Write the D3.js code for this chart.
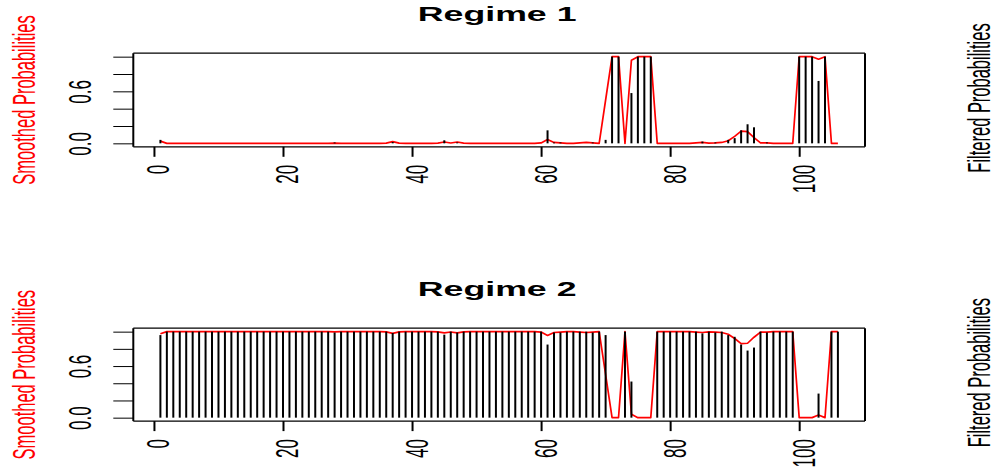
<!DOCTYPE html>
<html>
<head>
<meta charset="utf-8">
<script src="https://cdn.jsdelivr.net/npm/d3@7"></script>
<style>
  html, body { margin: 0; padding: 0; background: #fff; }
  svg { display: block; font-family: "Liberation Sans", Arial, Helvetica, sans-serif; }
</style>
</head>
<body>
<svg id="chart" width="998" height="471"></svg>
<script>
// Observation index 1..106
const obs = d3.range(1, 107);

// Regime 1 — filtered probabilities (bars) and smoothed probabilities (red line)
const filtered1 = [
  0.04,0,0,0,0,0,0,0,0,0,
  0,0,0,0,0,0,0,0,0,0,
  0,0,0,0,0,0,0,0.01,0,0,
  0,0,0,0,0,0,0.015,0,0,0,
  0,0,0,0,0.035,0,0.01,0,0,0,
  0,0,0,0,0,0,0,0,0,0,
  0.15,0.01,0.01,0,0,0,0,0.01,0,0.04,
  1,1,0,0.58,1,1,1,0,0,0,
  0,0,0,0,0.02,0,0.01,0,0.04,0.06,
  0.15,0.22,0.185,0,0.01,0,0,0,0,1,
  1,1,0.72,1,0,0
];
const smoothed1 = [
  0.025,0,0,0,0,0,0,0,0,0,
  0,0,0,0,0,0,0,0,0,0,
  0,0,0,0,0,0,0,0.003,0,0,
  0,0,0,0,0,0.003,0.02,0.003,0,0,
  0,0,0,0.003,0.015,0.004,0.015,0.003,0,0,
  0,0,0,0,0,0,0,0,0,0.005,
  0.045,0.01,0.005,0,0,0.005,0.01,0.005,0,0.5,
  1,1,0,0.96,1,1,1,0,0,0,
  0,0,0,0.005,0.01,0.003,0.005,0.01,0.03,0.08,
  0.14,0.135,0.065,0.005,0.005,0,0,0,0,1,
  1,1,0.97,1,0,0
];

// Regime 2 — filtered probabilities (bars) and smoothed probabilities (red line)
const filtered2 = [
  0.96,1,1,1,1,1,1,1,1,1,
  1,1,1,1,1,1,1,1,1,1,
  1,1,1,1,1,1,1,0.99,1,1,
  1,1,1,1,1,1,0.985,1,1,1,
  1,1,1,1,0.965,1,0.99,1,1,1,
  1,1,1,1,1,1,1,1,1,1,
  0.85,0.99,0.99,1,1,1,1,0.99,1,0.96,
  0,0,1,0.42,0,0,0,1,1,1,
  1,1,1,1,0.98,1,0.99,1,0.96,0.94,
  0.85,0.78,0.815,1,0.99,1,1,1,1,0,
  0,0,0.28,0,1,1
];
const smoothed2 = [
  0.975,1,1,1,1,1,1,1,1,1,
  1,1,1,1,1,1,1,1,1,1,
  1,1,1,1,1,1,1,0.997,1,1,
  1,1,1,1,1,0.997,0.98,0.997,1,1,
  1,1,1,0.997,0.985,0.996,0.985,0.997,1,1,
  1,1,1,1,1,1,1,1,1,0.995,
  0.955,0.99,0.995,1,1,0.995,0.99,0.995,1,0.5,
  0,0,1,0.04,0,0,0,1,1,1,
  1,1,1,0.995,0.99,0.997,0.995,0.99,0.97,0.92,
  0.86,0.865,0.935,0.995,0.995,1,1,1,1,0,
  0,0,0.03,0,1,1
];

const panelTitles = ["Regime 1", "Regime 2"];
const xTicks = [0, 20, 40, 60, 80, 100];
const yTicks = [0, 0.2, 0.4, 0.6, 0.8, 1.0];
const yTickLabels = ["0.0", "", "", "0.6", "", ""];
const leftAxisTitle = "Smoothed Probabilities";
const rightAxisTitle = "Filtered Probabilities";

const panels = [
  { title: panelTitles[0], filt: filtered1, smo: smoothed1, top: 53.2, bottom: 146.8 },
  { title: panelTitles[1], filt: filtered2, smo: smoothed2, top: 328.2, bottom: 421.1 }
];

const svg = d3.select("#chart");
const left = 133.3, right = 865;
const sx = 1.85; // horizontal stretch applied to all text

const x = d3.scaleLinear().domain([-3.2, 110.2]).range([left, right]);

panels.forEach(p => {
  const y = d3.scaleLinear().domain([-0.04, 1.04]).range([p.bottom, p.top]);
  const g = svg.append("g");

  // smoothed probabilities
  const line = d3.line().x((d, i) => x(obs[i])).y(d => y(d));
  g.append("path")
    .datum(p.smo)
    .attr("d", line)
    .attr("fill", "none")
    .attr("stroke", "#ff0000")
    .attr("stroke-width", 1.7)
    .attr("stroke-linejoin", "round");

  // filtered probabilities as vertical spikes
  g.append("g").selectAll("line")
    .data(p.filt)
    .join("line")
    .attr("x1", (d, i) => x(obs[i]))
    .attr("x2", (d, i) => x(obs[i]))
    .attr("y1", y(0))
    .attr("y2", d => y(d))
    .attr("stroke", "#000")
    .attr("stroke-width", 2);

  // plot frame
  g.append("line").attr("x1", left).attr("x2", right).attr("y1", p.top).attr("y2", p.top)
    .attr("stroke", "#000").attr("stroke-width", 1.2);
  g.append("line").attr("x1", left).attr("x2", right).attr("y1", p.bottom).attr("y2", p.bottom)
    .attr("stroke", "#000").attr("stroke-width", 1.2);
  g.append("line").attr("x1", left).attr("x2", left).attr("y1", p.top).attr("y2", p.bottom)
    .attr("stroke", "#000").attr("stroke-width", 2);
  g.append("line").attr("x1", right).attr("x2", right).attr("y1", p.top).attr("y2", p.bottom)
    .attr("stroke", "#000").attr("stroke-width", 2);

  // bottom axis
  const gx = g.append("g")
    .attr("transform", `translate(0,${p.bottom})`)
    .call(d3.axisBottom(x).tickValues(xTicks).tickSize(10).tickSizeOuter(0).tickFormat(d3.format("d")));
  gx.select(".domain").remove();
  gx.selectAll(".tick line").attr("stroke", "#000").attr("stroke-width", 2);
  gx.selectAll(".tick text")
    .attr("x", 0).attr("y", 0).attr("dy", null)
    .attr("text-anchor", "end")
    .attr("font-size", 17)
    .attr("font-family", "Liberation Sans, Arial, sans-serif")
    .attr("fill", "#000")
    .attr("transform", `translate(15,18) scale(${sx},1) rotate(-90)`);

  // left axis
  const gy = g.append("g")
    .attr("transform", `translate(${left},0)`)
    .call(d3.axisLeft(y).tickValues(yTicks).tickSize(20).tickSizeOuter(0)
      .tickFormat((d, i) => yTickLabels[i]));
  gy.select(".domain").remove();
  gy.selectAll(".tick line").attr("stroke", "#000").attr("stroke-width", 1);
  gy.selectAll(".tick text")
    .attr("x", 0).attr("y", 0).attr("dy", null)
    .attr("text-anchor", "middle")
    .attr("font-size", 17)
    .attr("font-family", "Liberation Sans, Arial, sans-serif")
    .attr("fill", "#000")
    .attr("transform", `translate(-42,0) scale(${sx},1) rotate(-90)`);

  const cy = (p.top + p.bottom) / 2;

  // title
  svg.append("text")
    .attr("transform", `translate(${(left + right) / 2 - 2},${p.top - 31.8}) scale(${sx},1)`)
    .attr("text-anchor", "middle")
    .attr("font-size", 19.3)
    .attr("font-weight", "bold")
    .text(p.title);

  // axis titles
  svg.append("text")
    .attr("transform", `translate(35,${cy}) scale(${sx},1) rotate(-90)`)
    .attr("text-anchor", "middle")
    .attr("font-size", 16.5)
    .attr("fill", "#ff0000")
    .text(leftAxisTitle);
  svg.append("text")
    .attr("transform", `translate(990,${cy - 2}) scale(${sx},1) rotate(-90)`)
    .attr("text-anchor", "middle")
    .attr("font-size", 16.5)
    .attr("fill", "#000")
    .text(rightAxisTitle);
});
</script>
</body>
</html>
